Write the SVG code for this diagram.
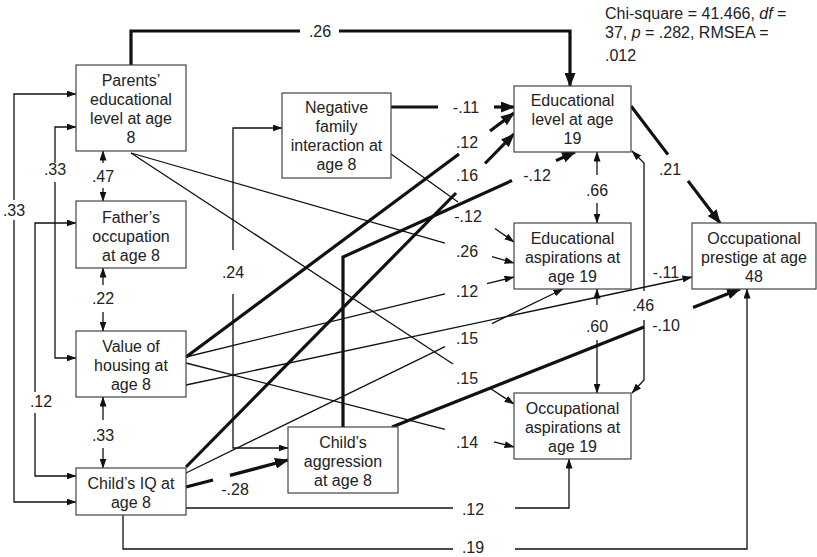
<svg xmlns="http://www.w3.org/2000/svg" width="817" height="557" viewBox="0 0 817 557">
<style>
.box{fill:#fff;stroke:#444;stroke-width:1.2}
.t{font-family:"Liberation Sans",Arial,sans-serif;font-size:16px;fill:#222;text-anchor:middle}
.s{font-family:"Liberation Sans",Arial,sans-serif;font-size:16px;fill:#222}
.thin{stroke:#111;stroke-width:1.3;fill:none}
.thick{stroke:#111;stroke-width:3.2;fill:none}
.a{marker-end:url(#ah)}
.A{marker-end:url(#AH)}
</style>
<defs>
<marker id="ah" markerUnits="userSpaceOnUse" markerWidth="10" markerHeight="7" refX="9.5" refY="3.5" orient="auto"><path d="M0,0 L10,3.5 L0,7 z" fill="#111"/></marker>
<marker id="AH" markerUnits="userSpaceOnUse" markerWidth="14" markerHeight="11" refX="13" refY="5.5" orient="auto"><path d="M0,0 L14,5.5 L0,11 z" fill="#111"/></marker>
</defs>
<rect width="817" height="557" fill="#fff"/>
<g id="connectors">
<path class="thick" d="M131,65 V31 H300"/><path class="thick A" d="M339,31 H570 V86"/>
<path class="thick" d="M391,107 H438"/><path class="thick A" d="M494,107 H514"/>
<path class="thick" d="M186,357 L459,154"/><path class="thick A" d="M490,131 L514,113"/>
<path class="thick" d="M186,467 L456,193"/><path class="thick A" d="M485,163.5 L514,134"/>
<path class="thick" d="M343,427 V257 L512,180.5"/><path class="thick A" d="M556,160.6 L575,152"/>
<path class="thick" d="M186,487 L213,480"/><path class="thick A" d="M230,475.4 L288,460"/>
<path class="thick" d="M392,427 L644,327"/><path class="thick A" d="M693,307.6 L740,289"/>
<path class="thick" d="M631,106 L668,154.6"/><path class="thick A" d="M688,180.9 L720,223"/>
<path class="thin" d="M391,154 L458,202"/><path class="thin a" d="M495,228.5 L514,242"/>
<path class="thin" d="M131,153 L445,243.2"/><path class="thin a" d="M492,256.7 L514,263"/>
<path class="thin" d="M131,153 L453,364"/><path class="thin a" d="M490,388.3 L514,404"/>
<path class="thin" d="M186,357 L445,293.8"/><path class="thin a" d="M487,283.6 L514,277"/>
<path class="thin a" d="M186,385 L692,277"/>
<path class="thin" d="M186,363 L445,429.3"/><path class="thin a" d="M494,441.9 L514,447"/>
<path class="thin" d="M186,473 L445,346.6"/><path class="thin a" d="M492,323.6 L563,289"/>
<path class="thin" d="M186,508 H453"/><path class="thin a" d="M515,508 H569 V459"/>
<path class="thin" d="M123,515 V549 H453"/><path class="thin a" d="M515,549 H747 V289"/>
<path class="thin a" d="M103,163 V151"/><path class="thin a" d="M103,188 V201"/>
<path class="thin a" d="M103,285 V268"/><path class="thin a" d="M103,312 V331"/>
<path class="thin a" d="M103,420 V397"/><path class="thin a" d="M103,448 V468"/>
<path class="thin a" d="M597,175 V152"/><path class="thin a" d="M597,203 V223"/>
<path class="thin a" d="M597,305 V289"/><path class="thin a" d="M597,340 V393"/>
<path class="thin a" d="M644,291 V163 L632,151"/><path class="thin a" d="M644,320 V380 L632,393"/>
<path class="thin a" d="M14,200 V94 H76"/><path class="thin a" d="M14,220 V502 H76"/>
<path class="thin a" d="M55,163 V127 H76"/><path class="thin a" d="M55,182 V358 H76"/>
<path class="thin a" d="M35,392 V223 H76"/><path class="thin a" d="M35,413 V476 H76"/>
<path class="thin a" d="M233,250 V128 H282"/><path class="thin a" d="M233,294 V448 H288"/>
</g>
<g id="labels">
<text class="t" x="320" y="37">.26</text>
<text class="t" x="466" y="113">-.11</text>
<text class="t" x="467" y="148">.12</text>
<text class="t" x="467" y="181">.16</text>
<text class="t" x="537" y="181">-.12</text>
<text class="t" x="468" y="222">-.12</text>
<text class="t" x="467" y="257">.26</text>
<text class="t" x="467" y="297">.12</text>
<text class="t" x="467" y="344">.15</text>
<text class="t" x="467" y="384">.15</text>
<text class="t" x="467" y="448">.14</text>
<text class="t" x="473" y="515">.12</text>
<text class="t" x="473" y="553">.19</text>
<text class="t" x="235" y="495">-.28</text>
<text class="t" x="666" y="331">-.10</text>
<text class="t" x="666" y="278">-.11</text>
<text class="t" x="643" y="311">.46</text>
<text class="t" x="597" y="332">.60</text>
<text class="t" x="597" y="196">.66</text>
<text class="t" x="670" y="175">.21</text>
<text class="t" x="103" y="182">.47</text>
<text class="t" x="103" y="304">.22</text>
<text class="t" x="103" y="441">.33</text>
<text class="t" x="14" y="216">.33</text>
<text class="t" x="55" y="175">.33</text>
<text class="t" x="41" y="407">.12</text>
<text class="t" x="233" y="278">.24</text>
<text class="s" x="605" y="19">Chi-square = 41.466, <tspan font-style="italic">df</tspan> =</text>
<text class="s" x="605" y="38">37, <tspan font-style="italic">p</tspan> = .282, RMSEA =</text>
<text class="s" x="605" y="61">.012</text>
</g>
<g id="parents">
<rect class="box" x="76" y="65" width="110" height="86"/>
<text class="t" x="131" y="86">Parents’</text>
<text class="t" x="131" y="105">educational</text>
<text class="t" x="131" y="124">level at age</text>
<text class="t" x="131" y="143">8</text>
</g>
<g id="father">
<rect class="box" x="76" y="201" width="110" height="67"/>
<text class="t" x="131" y="223">Father’s</text>
<text class="t" x="131" y="242">occupation</text>
<text class="t" x="131" y="261">at age 8</text>
</g>
<g id="housing">
<rect class="box" x="76" y="331" width="110" height="66"/>
<text class="t" x="131" y="352">Value of</text>
<text class="t" x="131" y="371">housing at</text>
<text class="t" x="131" y="390">age 8</text>
</g>
<g id="iq">
<rect class="box" x="76" y="468" width="110" height="47"/>
<text class="t" x="131" y="489">Child’s IQ at</text>
<text class="t" x="131" y="508">age 8</text>
</g>
<g id="negfam">
<rect class="box" x="282" y="93" width="109" height="85"/>
<text class="t" x="336.5" y="113">Negative</text>
<text class="t" x="336.5" y="132">family</text>
<text class="t" x="336.5" y="151">interaction at</text>
<text class="t" x="336.5" y="170">age 8</text>
</g>
<g id="aggression">
<rect class="box" x="288" y="427" width="110" height="66"/>
<text class="t" x="343" y="448">Child’s</text>
<text class="t" x="343" y="467">aggression</text>
<text class="t" x="343" y="486">at age 8</text>
</g>
<g id="edlevel">
<rect class="box" x="514" y="86" width="117" height="66"/>
<text class="t" x="572.5" y="106">Educational</text>
<text class="t" x="572.5" y="125">level at age</text>
<text class="t" x="572.5" y="144">19</text>
</g>
<g id="edasp">
<rect class="box" x="514" y="223" width="117" height="66"/>
<text class="t" x="572.5" y="244">Educational</text>
<text class="t" x="572.5" y="263">aspirations at</text>
<text class="t" x="572.5" y="282">age 19</text>
</g>
<g id="occasp">
<rect class="box" x="514" y="393" width="117" height="66"/>
<text class="t" x="572.5" y="414">Occupational</text>
<text class="t" x="572.5" y="433">aspirations at</text>
<text class="t" x="572.5" y="452">age 19</text>
</g>
<g id="prestige">
<rect class="box" x="692" y="223" width="124" height="66"/>
<text class="t" x="754" y="244">Occupational</text>
<text class="t" x="754" y="263">prestige at age</text>
<text class="t" x="754" y="282">48</text>
</g>
</svg>
